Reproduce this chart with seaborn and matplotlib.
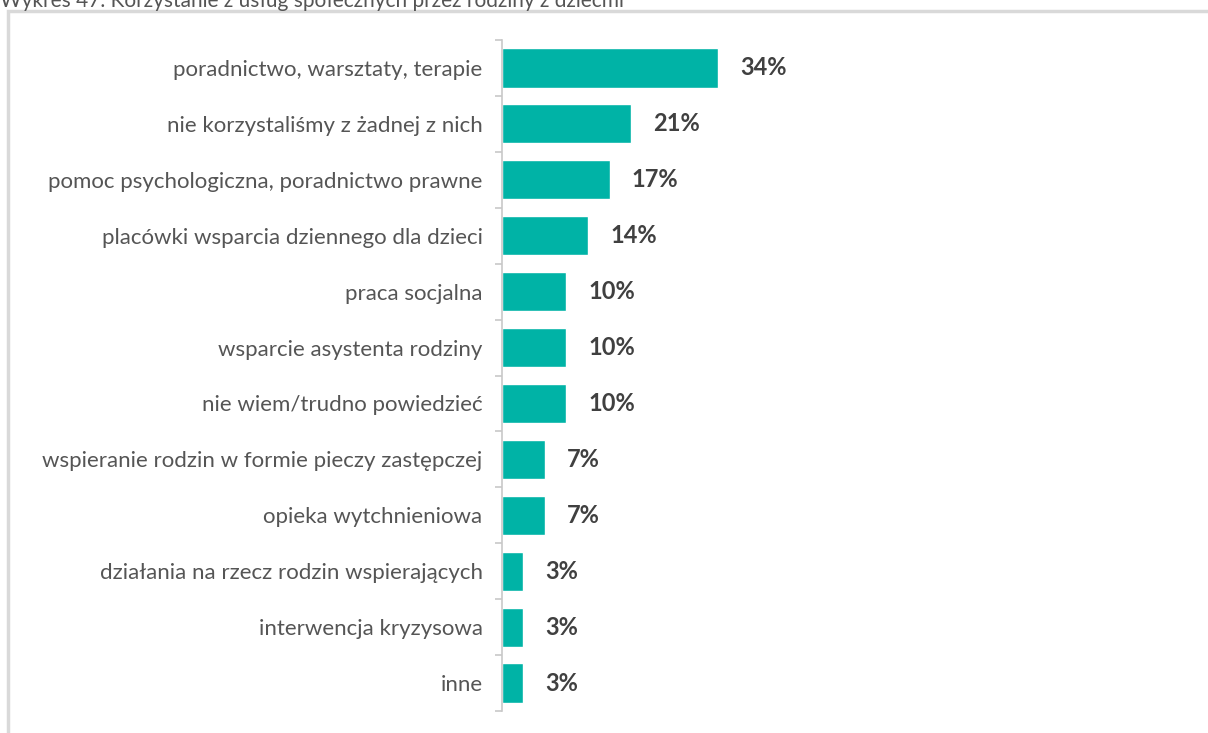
import matplotlib
matplotlib.use("Agg")
import matplotlib.pyplot as plt
import seaborn as sns
import pandas as pd
from matplotlib.patches import Rectangle

categories = [
    "poradnictwo, warsztaty, terapie",
    "nie korzystaliśmy z żadnej z nich",
    "pomoc psychologiczna, poradnictwo prawne",
    "placówki wsparcia dziennego dla dzieci",
    "praca socjalna",
    "wsparcie asystenta rodziny",
    "nie wiem/trudno powiedzieć",
    "wspieranie rodzin w formie pieczy zastępczej",
    "opieka wytchnieniowa",
    "działania na rzecz rodzin wspierających",
    "interwencja kryzysowa",
    "inne",
]
values = [34.5, 20.7, 17.2, 13.8, 10.3, 10.3, 10.3, 6.9, 6.9, 3.4, 3.4, 3.4]
value_labels = ["34%", "21%", "17%", "14%", "10%", "10%", "10%", "7%", "7%", "3%", "3%", "3%"]
title = "Wykres 47. Korzystanie z usług społecznych przez rodziny z dziećmi"

df = pd.DataFrame({"kategoria": categories, "procent": values})

sns.set_theme(style="white")
plt.rcParams["font.family"] = ["Lato", "DejaVu Sans"]

W, H = 1208, 733
fig = plt.figure(figsize=(W / 100, H / 100), dpi=100)
ax = fig.add_axes([502 / W, 1 - 711 / H, 625.5 / W, 671 / H])

sns.barplot(data=df, x="procent", y="kategoria", orient="h", color="#00b3a6",
            saturation=1, width=0.7, ax=ax)

ax.set_xlim(0, 100)
ax.set_ylim(len(categories) - 0.5, -0.5)
ax.set_xlabel("")
ax.set_ylabel("")
ax.set_xticks([])

for s in ["top", "right", "bottom"]:
    ax.spines[s].set_visible(False)
ax.spines["left"].set_color("#c8c8c8")
ax.spines["left"].set_linewidth(1.2)

ax.set_yticks(range(len(categories)))
ax.set_yticklabels(categories, fontsize=16, color="#555555")
ax.tick_params(axis="y", which="major", length=0, pad=14)
ax.set_yticks([i - 0.5 for i in range(len(categories) + 1)], minor=True)
ax.tick_params(axis="y", which="minor", length=5, width=1.2, color="#c8c8c8", left=True)

for i, (v, lab) in enumerate(zip(values, value_labels)):
    ax.annotate(lab, xy=(v, i), xytext=(22, 0), textcoords="offset pixels",
                ha="left", va="center", fontsize=17, fontweight="bold", color="#404040")

fig.patches.append(Rectangle((8 / W, -0.1), 2.0, 1 - 11 / H + 0.1, transform=fig.transFigure,
                             fill=False, edgecolor="#d9d9d9", linewidth=2.5))

fig.text(0 / W, 1 - 7 / H, title, ha="left", va="baseline", fontsize=15, color="#555555")

fig.savefig("out.png", dpi=100)
